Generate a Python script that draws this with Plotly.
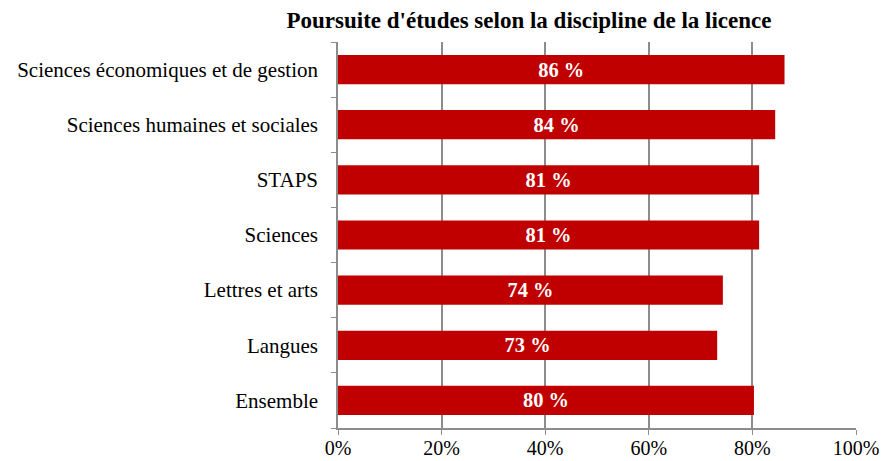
"""Poursuite d'études selon la discipline de la licence - horizontal bar chart."""

import plotly.graph_objects as go

# Categories listed bottom to top (plotly draws the first category at the bottom)
DISCIPLINES = [
    "Ensemble",
    "Langues",
    "Lettres et arts",
    "Sciences",
    "STAPS",
    "Sciences humaines et sociales",
    "Sciences économiques et de gestion",
]
TAUX = [80.3, 73.2, 74.3, 81.3, 81.3, 84.4, 86.2]
LABELS = ["80 %", "73 %", "74 %", "81 %", "81 %", "84 %", "86 %"]
X_TICKS = [0, 20, 40, 60, 80, 100]
X_TICK_TEXT = ["0%", "20%", "40%", "60%", "80%", "100%"]

BAR_COLOR = "#C00000"
GRID_COLOR = "#8c8c8c"
FONT = "Liberation Serif, Times New Roman, serif"

fig = go.Figure()

fig.add_trace(
    go.Bar(
        x=TAUX,
        y=DISCIPLINES,
        orientation="h",
        marker=dict(color=BAR_COLOR, line=dict(width=0)),
        text=LABELS,
        textposition="inside",
        insidetextanchor="middle",
        textfont=dict(family=FONT, size=22, color="white", weight="bold"),
        textangle=0,
        hoverinfo="skip",
    )
)

# the page body keeps its default 8px margin, so the figure is 8px smaller
fig.update_layout(
    title=dict(
        text="<b>Poursuite d'études selon la discipline de la licence</b>",
        x=0.5867,
        xanchor="center",
        y=0.9735,
        yanchor="middle",
        font=dict(family=FONT, size=23, color="black"),
    ),
    width=888,
    height=453,
    margin=dict(l=330, r=40, t=34, b=33),
    bargap=0.47,
    showlegend=False,
    plot_bgcolor="white",
    paper_bgcolor="white",
    xaxis=dict(
        range=[0, 100],
        tickvals=X_TICKS,
        ticktext=X_TICK_TEXT,
        showgrid=True,
        gridcolor=GRID_COLOR,
        gridwidth=1.5,
        showline=True,
        linecolor=GRID_COLOR,
        linewidth=1.5,
        ticks="outside",
        ticklen=5,
        tickcolor=GRID_COLOR,
        ticklabelstandoff=-4,
        tickfont=dict(family=FONT, size=20, color="black"),
        zeroline=False,
        automargin=False,
        fixedrange=True,
    ),
    yaxis=dict(
        showgrid=False,
        showline=True,
        linecolor=GRID_COLOR,
        linewidth=1.5,
        ticks="outside",
        ticklen=5,
        tickcolor=GRID_COLOR,
        tickson="boundaries",
        ticklabelstandoff=14,
        tickfont=dict(family=FONT, size=21, color="black"),
        automargin=False,
        fixedrange=True,
    ),
)

fig.write_html("out.html")
